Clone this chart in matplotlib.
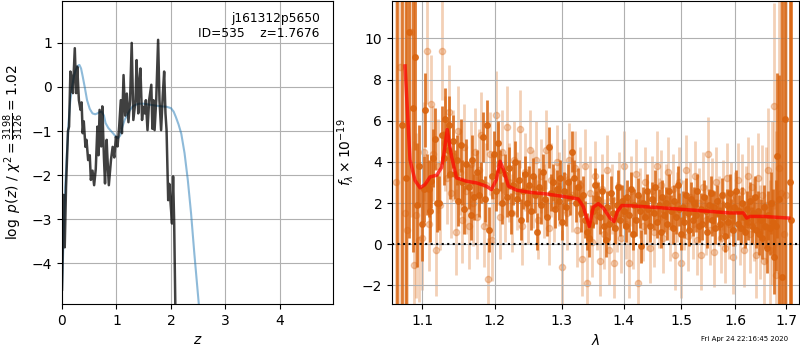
import numpy as np
import matplotlib
matplotlib.use("Agg")
import matplotlib.pyplot as plt
from matplotlib.ticker import FixedLocator, FixedFormatter, NullLocator

# --- p(z) ---
z_pz = [0.0, 0.03, 0.05, 0.074, 0.11, 0.13, 0.154, 0.185, 0.20, 0.235, 0.26, 0.28, 0.31, 0.34,
        0.36, 0.38, 0.40, 0.43, 0.45, 0.48, 0.51, 0.53, 0.56, 0.59, 0.62, 0.65, 0.67, 0.69, 0.72,
        0.74, 0.77, 0.79, 0.82, 0.83, 0.86, 0.90, 0.93, 0.96, 0.99, 1.02, 1.05, 1.08, 1.10, 1.13,
        1.16, 1.19, 1.22, 1.25, 1.28, 1.31, 1.35, 1.37, 1.40, 1.42, 1.44, 1.47, 1.49, 1.52, 1.54,
        1.57, 1.60, 1.64, 1.66, 1.68, 1.70, 1.73, 1.765, 1.79, 1.82, 1.85, 1.876, 1.90, 1.92,
        1.95, 1.97, 1.99, 2.02, 2.04, 2.06, 2.08, 2.09]
logp = [-4.6, -2.45, -3.64, -2.27, -1.0, -0.9, 0.35, 0.16, -0.14, 0.88, -0.14, 0.46, -0.3, -0.52,
        -0.35, -1.05, -0.78, -1.36, -1.2, -1.66, -1.55, -2.11, -1.9, -2.23, -1.86, -0.9, -1.55,
        -0.52, -1.35, -0.44, -1.6, -2.19, -1.2, -1.5, -2.23, -1.65, -1.36, -1.6, -1.13, -1.35,
        -0.9, -0.3, -1.05, 0.27, -0.65, -0.15, -0.8, -0.3, 1.0, -0.75, -0.3, 0.61, -0.6, 0.1, 0.42,
        -0.75, -0.45, -0.6, -0.3, -0.98, -0.3, 0.05, -0.95, -0.3, -0.98, -0.3, 1.07, -0.3, -0.98,
        -0.2, 0.35, -0.6, -0.98, -2.57, -2.2, -2.57, -3.1, -2.03, -3.1, -4.9, -6.5]

z_prior = [0.0, 0.03, 0.06, 0.09, 0.12, 0.15, 0.185, 0.22, 0.25, 0.29, 0.32, 0.35, 0.38, 0.42,
           0.46, 0.51, 0.56, 0.61, 0.65, 0.69, 0.73, 0.77, 0.80, 0.85, 0.90, 0.95, 0.99, 1.03,
           1.07, 1.11, 1.15, 1.20, 1.25, 1.30, 1.36, 1.42, 1.50, 1.60, 1.70, 1.82, 1.92, 2.00,
           2.05, 2.09, 2.14, 2.19, 2.25, 2.31, 2.37, 2.43, 2.51, 2.58]
logp_prior = [-4.6, -3.4, -2.27, -1.5, -0.82, -0.35, 0.0, 0.25, 0.38, 0.48, 0.5, 0.42, 0.24,
              -0.02, -0.3, -0.5, -0.6, -0.62, -0.6, -0.57, -0.56, -0.65, -0.82, -0.93, -1.0,
              -1.07, -1.13, -1.16, -1.1, -0.9, -0.75, -0.63, -0.52, -0.44, -0.4, -0.38, -0.38,
              -0.4, -0.42, -0.44, -0.45, -0.48, -0.56, -0.68, -0.85, -1.06, -1.5, -2.11, -2.87,
              -3.78, -4.9, -6.0]

# --- spectrum: dark orange (grism data) ---
wave1 = [1.0680, 1.0745, 1.0790, 1.0834, 1.0879, 1.0904, 1.0940, 1.0965, 1.1000, 1.1022,
         1.1044, 1.1070, 1.1088, 1.1110, 1.1123, 1.1150, 1.1176, 1.1200, 1.1232, 1.1263,
         1.1290, 1.1312, 1.1340, 1.1355, 1.1380, 1.1410, 1.1444, 1.1470, 1.1490, 1.1524,
         1.1545, 1.1568, 1.1598, 1.1630, 1.1660, 1.1680, 1.1710, 1.1747, 1.1780, 1.1810,
         1.1834, 1.1860, 1.1889, 1.1922, 1.1960, 1.1990, 1.2020, 1.2050, 1.2080, 1.2110,
         1.2140, 1.2170, 1.2200, 1.2230, 1.2260, 1.2290, 1.2320, 1.2350, 1.2380, 1.2410,
         1.2440, 1.2470, 1.2500, 1.2530, 1.2560, 1.2590, 1.2620, 1.2650, 1.2680, 1.2710,
         1.2740, 1.2770, 1.2800, 1.2830, 1.2860, 1.2890, 1.2920, 1.2950, 1.2980, 1.3010,
         1.3040, 1.3070, 1.3100, 1.3130, 1.3160, 1.3190, 1.3220, 1.3250, 1.3280, 1.3310,
         1.3340, 1.3370, 1.3400, 1.3430, 1.3460, 1.3490, 1.3520, 1.3550, 1.3580, 1.3610,
         1.3640, 1.3670, 1.3700, 1.3730, 1.3760, 1.3790, 1.3820, 1.3850, 1.3880, 1.3910,
         1.3940, 1.3970, 1.4000, 1.4030, 1.4060, 1.4090, 1.4120, 1.4150, 1.4180, 1.4210,
         1.4240, 1.4270, 1.4300, 1.4330, 1.4360, 1.4390, 1.4420, 1.4450, 1.4480, 1.4510,
         1.4540, 1.4570, 1.4600, 1.4630, 1.4660, 1.4690, 1.4720, 1.4750, 1.4780, 1.4810,
         1.4840, 1.4870, 1.4900, 1.4930, 1.4960, 1.4990, 1.5020, 1.5050, 1.5080, 1.5110,
         1.5140, 1.5170, 1.5200, 1.5230, 1.5260, 1.5290, 1.5320, 1.5350, 1.5380, 1.5410,
         1.5440, 1.5470, 1.5500, 1.5530, 1.5560, 1.5590, 1.5620, 1.5650, 1.5680, 1.5710,
         1.5740, 1.5770, 1.5800, 1.5830, 1.5860, 1.5890, 1.5920, 1.5950, 1.5980, 1.6010,
         1.6040, 1.6070, 1.6100, 1.6130, 1.6160, 1.6190, 1.6220, 1.6250, 1.6280, 1.6310,
         1.6340, 1.6370, 1.6400, 1.6430, 1.6460, 1.6490, 1.6520, 1.6550, 1.6580, 1.6610,
         1.6640, 1.6670, 1.6700, 1.6730, 1.6760, 1.6790, 1.6813, 1.6850, 1.6914, 1.6980,
         1.7068, 1.7100]
flux1 = [-4.0, 5.8, 3.2, 10.3, 6.6, 9.1, 1.9, 3.8, 1.0, 2.7,
         6.5, 2.9, 2.7, 1.6, 3.05, 4.2, 5.1, 2.0, 2.0, 5.3,
         4.2, 6.1, 4.6, 5.8, 3.4, 5.0, 3.4, 4.1, 2.1, 4.8,
         3.0, 1.7, 3.9, 2.8, 1.4, 4.1, 2.3, 3.5, 2.4, 3.0,
         5.2, 2.2, 5.8, 0.7, 3.3, 4.4, 2.6, 4.9, 3.6, 2.0,
         3.4, 2.3, 3.7, 1.5, 2.9, 4.0, 2.2, 3.1, 1.2, 2.6,
         3.4, 2.0, 2.9, 1.6, 3.3, 2.4, 0.6, 2.8, 1.9, 3.5,
         2.2, 1.3, 4.7, 2.5, 3.0, 1.7, 2.7, 2.1, 3.2, 1.1,
         2.6, 1.8, 3.0, 2.3, 4.5, 3.2, 2.0, 2.8, 2.2, 1.5,
         2.4, 1.2, 0.6, 0.3, 1.0, 1.6, 2.9, 1.8, 2.2, 1.3,
         2.6, 0.9, 0.2, 1.8, 1.0, 2.5, 1.5, 0.8, 1.9, 2.8,
         1.2, 2.1, 1.6, 0.9, 2.3, 1.4, 2.7, 0.5, 1.9, 1.2,
         2.4, 1.6, -0.1, 2.0, 1.3, 2.6, 1.7, 0.9, 2.2, 1.5,
         2.8, 1.1, 1.9, 0.6, 2.3, 1.4, 2.0, 1.0, 2.6, 1.6,
         0.8, 2.1, 1.3, 2.9, 1.7, 0.5, 1.8, 1.1, 2.4, 1.5,
         0.7, 2.2, 1.2, 2.0, 1.4, 2.6, 0.9, 1.7, 1.0, 2.3,
         1.6, 0.6, 1.9, 2.5, 1.2, 1.8, 0.8, 2.1, 1.5, 1.0,
         2.4, 1.3, 0.4, 1.9, 1.1, 2.5, 1.4, 0.7, 1.8, 2.6,
         1.0, 1.6, 0.8, 2.0, 1.3, 0.6, 1.7, 1.1, 2.1, 0.9,
         1.5, 2.3, 0.7, 1.6, 0.5, 1.2, 0.3, 1.8, 0.9, -0.2,
         1.4, 0.8, 2.0, 1.1, -0.6, 0.9, 4.3, 2.2, -1.6, 6.1,
         3.0, 1.2]
err1 = [20, 15, 12, 10, 7, 4.5, 3.0, 2.0, 1.8, 1.6,
        1.8, 1.5, 1.4, 1.5, 1.3, 1.4, 1.5, 1.4, 1.3, 1.4,
        1.3, 1.5, 1.4, 1.4, 1.2, 1.3, 1.2, 1.2, 1.2, 1.3,
        1.1, 1.2, 1.2, 1.1, 1.2, 1.2, 1.1, 1.1, 1.1, 1.0,
        1.2, 1.1, 1.2, 1.1, 1.1, 1.1, 1.0, 1.1, 1.0, 1.0,
        1.0, 1.0, 1.0, 1.0, 1.0, 1.0, 0.9, 1.0, 1.0, 0.9,
        0.9, 0.9, 0.9, 0.9, 0.9, 0.9, 0.9, 0.9, 0.9, 0.9,
        0.9, 0.9, 1.0, 0.9, 0.9, 0.9, 0.9, 0.9, 0.9, 0.9,
        0.9, 0.9, 0.9, 0.9, 1.0, 0.9, 0.9, 0.9, 0.9, 0.9,
        0.9, 0.9, 0.9, 0.9, 0.9, 0.8, 0.8, 0.8, 0.8, 0.8,
        0.8, 0.8, 0.8, 0.8, 0.8, 0.8, 0.8, 0.8, 0.8, 0.8,
        0.8, 0.8, 0.8, 0.8, 0.8, 0.8, 0.8, 0.8, 0.8, 0.8,
        0.8, 0.8, 0.8, 0.8, 0.8, 0.8, 0.8, 0.8, 0.8, 0.8,
        0.8, 0.8, 0.8, 0.8, 0.8, 0.8, 0.8, 0.8, 0.8, 0.8,
        0.8, 0.8, 0.8, 0.9, 0.8, 0.8, 0.8, 0.8, 0.8, 0.8,
        0.8, 0.8, 0.8, 0.8, 0.8, 0.8, 0.8, 0.8, 0.8, 0.8,
        0.8, 0.8, 0.8, 0.8, 0.8, 0.8, 0.8, 0.8, 0.8, 0.8,
        0.8, 0.8, 0.8, 0.8, 0.8, 0.9, 0.8, 0.8, 0.8, 1.0,
        0.8, 0.8, 0.8, 0.8, 0.8, 0.8, 0.9, 0.9, 0.9, 0.9,
        0.9, 1.0, 0.9, 1.0, 1.0, 1.0, 1.0, 1.1, 1.1, 1.2,
        1.2, 1.3, 1.5, 1.6, 1.8, 2.2, 4.0, 6.0, 15, 20,
        25, 12]

# --- spectrum: light orange (second beam) ---
wave2 = [1.0660, 1.0720, 1.0775, 1.0810, 1.0858, 1.0890, 1.0925, 1.0960, 1.1000, 1.1030,
         1.1062, 1.1090, 1.1120, 1.1150, 1.1180, 1.1210, 1.1240, 1.1270, 1.1300, 1.1330,
         1.1360, 1.1390, 1.1420, 1.1450, 1.1480, 1.1510, 1.1540, 1.1570, 1.1600, 1.1630,
         1.1660, 1.1690, 1.1720, 1.1750, 1.1780, 1.1810, 1.1840, 1.1870, 1.1900, 1.1930,
         1.1960, 1.1990, 1.2020, 1.2050, 1.2080, 1.2110, 1.2140, 1.2180, 1.2210, 1.2250,
         1.2280, 1.2320, 1.2360, 1.2400, 1.2440, 1.2480, 1.2520, 1.2560, 1.2600, 1.2640,
         1.2680, 1.2720, 1.2760, 1.2800, 1.2840, 1.2880, 1.2920, 1.2960, 1.3000, 1.3040,
         1.3080, 1.3120, 1.3160, 1.3200, 1.3240, 1.3280, 1.3320, 1.3360, 1.3400, 1.3440,
         1.3480, 1.3520, 1.3560, 1.3600, 1.3640, 1.3680, 1.3720, 1.3760, 1.3800, 1.3840,
         1.3880, 1.3920, 1.3960, 1.4000, 1.4040, 1.4080, 1.4120, 1.4160, 1.4200, 1.4240,
         1.4280, 1.4320, 1.4360, 1.4400, 1.4440, 1.4480, 1.4520, 1.4560, 1.4600, 1.4640,
         1.4680, 1.4720, 1.4760, 1.4800, 1.4840, 1.4880, 1.4920, 1.4960, 1.5000, 1.5040,
         1.5080, 1.5120, 1.5160, 1.5200, 1.5240, 1.5280, 1.5320, 1.5360, 1.5400, 1.5440,
         1.5480, 1.5520, 1.5560, 1.5600, 1.5640, 1.5680, 1.5720, 1.5760, 1.5800, 1.5840,
         1.5880, 1.5920, 1.5960, 1.6000, 1.6040, 1.6080, 1.6120, 1.6160, 1.6200, 1.6240,
         1.6280, 1.6320, 1.6360, 1.6400, 1.6440, 1.6480, 1.6520, 1.6560, 1.6600, 1.6640,
         1.6680, 1.6720, 1.6760, 1.6800, 1.6850, 1.6900, 1.6950, 1.7000]
flux2 = [3.0, 8.6, 1.5, 0.7, 10.3, -1.0, 1.4, 0.2, 0.3, 4.5,
         9.4, 1.0, 6.8, 4.4, -0.3, 3.8, 1.9, 9.4, 4.9, 3.2,
         6.4, 2.5, 4.3, 0.6, 5.5, 3.5, 1.2, 4.7, 2.6, 0.9,
         3.9, 2.0, 4.5, 1.3, 3.6, 5.3, 0.9, 2.9, -1.7, 4.4,
         0.2, 2.4, 6.3, 3.9, 1.3, 4.5, 2.1, 5.7, 3.0, 1.5,
         4.1, 2.6, 5.6, 0.9, 3.5, 1.9, 4.6, 2.7, 4.1, 1.2,
         3.3, 2.1, 4.6, 0.8, 3.1, 1.9, 4.0, 2.7, -1.1, 3.3,
         1.5, 4.1, 2.4, 3.7, 0.7, 2.9, -0.7, 3.8, -1.9, 2.5,
         0.1, 3.3, 1.4, -0.8, 2.7, 0.5, 3.6, -0.3, 2.2, -0.9,
         1.3, 2.8, 0.3, 3.8, 1.0, -0.9, 2.6, 0.5, 3.4, -1.9,
         2.0, 0.9, 3.0, 1.4, -0.2, 2.6, 0.6, 3.8, 1.5, 2.9,
         0.3, 2.2, 3.5, 0.9, 2.7, -0.5, 1.8, 3.0, -0.9, 1.4,
         3.6, 0.4, 2.3, 1.0, 3.3, 0.2, 2.0, -0.5, 2.8, 1.2,
         4.4, 0.7, 2.5, -0.4, 3.0, 1.6, 0.3, 2.4, -0.2, 3.2,
         1.0, 2.2, -0.6, 1.7, 3.1, 0.8, 2.6, -0.3, 1.9, 3.3,
         0.5, 2.8, 1.2, -0.5, 3.2, 0.6, 2.4, -0.8, 1.9, 3.6,
         -0.3, 2.0, 6.7, -1.5, 3.7, 2.5, 0.5, 2.4]
err2 = [25, 20, 15, 12, 9, 6, 4, 3, 2.5, 2.4,
        2.6, 2.3, 2.4, 2.3, 2.2, 2.3, 2.2, 2.4, 2.3, 2.2,
        2.3, 2.2, 2.2, 2.1, 2.2, 2.1, 2.1, 2.1, 2.1, 2.1,
        2.1, 2.1, 2.1, 2.0, 2.0, 2.1, 2.0, 2.0, 2.0, 2.0,
        2.0, 2.0, 2.1, 2.0, 2.0, 2.0, 2.0, 2.0, 1.9, 1.9,
        1.9, 1.9, 1.9, 1.9, 1.9, 1.9, 1.9, 1.9, 1.9, 1.9,
        1.8, 1.8, 1.9, 1.8, 1.8, 1.8, 1.8, 1.8, 1.8, 1.8,
        1.8, 1.8, 1.8, 1.8, 1.8, 1.8, 1.8, 1.8, 1.8, 1.8,
        1.7, 1.7, 1.7, 1.7, 1.7, 1.7, 1.7, 1.7, 1.7, 1.7,
        1.7, 1.7, 1.7, 1.7, 1.7, 1.7, 1.7, 1.7, 1.7, 1.7,
        1.7, 1.7, 1.7, 1.7, 1.7, 1.7, 1.7, 1.7, 1.7, 1.7,
        1.7, 1.7, 1.7, 1.7, 1.7, 1.7, 1.7, 1.7, 1.7, 1.7,
        1.7, 1.7, 1.7, 1.7, 1.7, 1.7, 1.7, 1.7, 1.7, 1.7,
        1.8, 1.7, 1.7, 1.7, 1.7, 1.7, 1.7, 1.7, 1.7, 1.7,
        1.7, 1.8, 1.8, 1.8, 1.8, 1.8, 1.8, 1.8, 1.9, 1.9,
        1.9, 2.0, 2.0, 2.1, 2.2, 2.3, 2.4, 2.6, 2.8, 3.0,
        3.4, 4.0, 5.0, 7, 10, 14, 18, 25]

# --- best-fit model ---
wave_model = [1.0779, 1.0843, 1.0908, 1.0974, 1.1040, 1.1106, 1.1194, 1.1261, 1.1300, 1.1336,
              1.1395, 1.1463, 1.1600, 1.1739, 1.1880, 1.1951, 1.2023, 1.2076, 1.2124, 1.2197,
              1.2320, 1.2517, 1.2767, 1.3020, 1.3258, 1.3338, 1.3435, 1.3499, 1.3580, 1.3661,
              1.3773, 1.3839, 1.3894, 1.3967, 1.4106, 1.4684, 1.5285, 1.5897, 1.6152, 1.6215,
              1.6282, 1.6547, 1.7054]
flux_model = [8.66, 4.1, 3.1, 2.74, 2.9, 3.27, 3.35, 3.73, 4.6, 5.57,
              4.27, 3.22, 3.06, 2.98, 2.82, 2.65, 3.14, 4.03, 3.63, 2.82,
              2.62, 2.52, 2.44, 2.32, 2.2, 1.83, 0.86, 1.8, 1.97, 1.76,
              1.27, 1.1, 1.59, 1.88, 1.87, 1.76, 1.64, 1.52, 1.52, 1.27,
              1.35, 1.35, 1.27]

lam_ticks = [1.1, 1.2, 1.3, 1.4, 1.5, 1.6, 1.7]
orange = "#d9640f"

fig = plt.figure(figsize=(8, 3.5), dpi=100)

# ---------------- p(z) panel ----------------
ax1 = fig.add_axes([0.0775, 0.131, 0.339, 0.866])
ax1.plot(z_prior, logp_prior, color="tab:blue", alpha=0.5, lw=1.5)
ax1.plot(z_pz, logp, color="k", alpha=0.75, lw=1.8)
ax1.set_xlim(0, 4.98)
ax1.set_ylim(-4.93, 1.95)
ax1.set_xticks([0, 1, 2, 3, 4])
ax1.set_yticks([-4, -3, -2, -1, 0, 1])
ax1.grid(True)
ax1.set_xlabel("$z$")
ax1.set_ylabel(r"$\log\ p(z)$ / $\chi^2=\frac{3198}{3126}=1.02$")
ax1.text(0.95, 0.965, "j161312p5650\nID=535    z=1.7676", transform=ax1.transAxes,
         ha="right", va="top", fontsize=8.8)

# ---------------- spectrum panel ----------------
ax2 = fig.add_axes([0.49, 0.131, 0.509, 0.866])
ax2.errorbar(wave2, flux2, yerr=err2, fmt="o", color=orange, alpha=0.3,
             ms=4.5, elinewidth=2, capsize=0, zorder=1)
ax2.errorbar(wave1, flux1, yerr=err1, fmt="o", color=orange, alpha=0.85,
             ms=4, elinewidth=2, capsize=0, zorder=2)
ax2.plot(wave_model, flux_model, color="r", alpha=0.7, lw=2.5, zorder=3)
ax2.axhline(0, color="k", ls=":", lw=1.5, zorder=4)

ax2.set_xscale("log")
ax2.set_xlim(1.0612, 1.7267)
ax2.set_ylim(-2.91, 11.81)
ax2.xaxis.set_major_locator(FixedLocator(lam_ticks))
ax2.xaxis.set_major_formatter(FixedFormatter([f"{v:.1f}" for v in lam_ticks]))
ax2.xaxis.set_minor_locator(NullLocator())
ax2.set_yticks([-2, 0, 2, 4, 6, 8, 10])
ax2.grid(True)
ax2.set_xlabel(r"$\lambda$")
ax2.set_ylabel(r"$f_\lambda\times10^{-19}$")

fig.text(0.985, 0.031, "Fri Apr 24 22:16:45 2020", ha="right", va="center", fontsize=5)

fig.savefig("out.png", dpi=100)
